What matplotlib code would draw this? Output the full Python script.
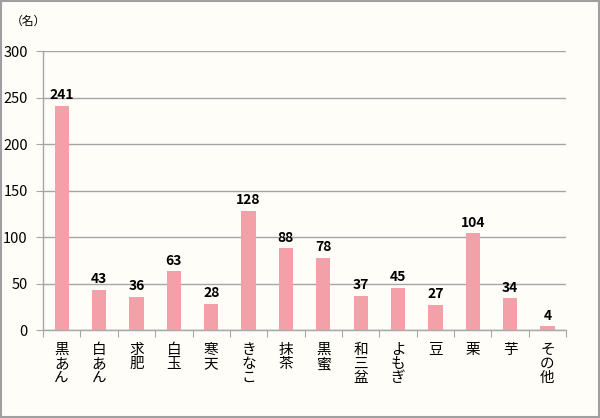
import matplotlib
matplotlib.use("Agg")
import matplotlib.pyplot as plt
from matplotlib.patches import Rectangle

plt.rcParams['font.family'] = ['Noto Sans CJK JP', 'DejaVu Sans']

categories = ["黒あん", "白あん", "求肥", "白玉", "寒天", "きなこ", "抹茶", "黒蜜", "和三盆", "よもぎ", "豆", "栗", "芋", "その他"]
values = [241, 43, 36, 63, 28, 128, 88, 78, 37, 45, 27, 104, 34, 4]
yticks = [0, 50, 100, 150, 200, 250, 300]

bg = "#FFFDF7"
bar_color = "#F4A0A8"
grid_color = "#A6A6A6"

fig = plt.figure(figsize=(6.0, 4.18), dpi=100, facecolor=bg)
fig.patches.append(Rectangle((0.002, 0.002), 0.996, 0.996, transform=fig.transFigure,
                             fill=False, edgecolor="#A0A0A0", linewidth=1.5))
ax = fig.add_axes([0.0717, 0.2105, 0.872, 0.667])
ax.set_facecolor(bg)

x = list(range(len(categories)))
ax.bar(x, values, width=0.38, color=bar_color, zorder=3)
for xi, v in zip(x, values):
    ax.text(xi, v + 4, str(v), ha="center", va="bottom", fontsize=10,
            fontweight="bold", color="#000000")

ax.set_ylim(0, 300)
ax.set_xlim(-0.5, len(categories) - 0.5)
ax.set_yticks(yticks)
ax.yaxis.grid(True, color=grid_color, linewidth=1.0, zorder=0)
ax.set_axisbelow(True)
for s in ["top", "right"]:
    ax.spines[s].set_visible(False)
for s in ["left", "bottom"]:
    ax.spines[s].set_color(grid_color)
    ax.spines[s].set_linewidth(1.0)

ax.tick_params(axis="y", length=5, color=grid_color, labelsize=10.5, pad=6)
ax.set_xticks([i - 0.5 for i in range(len(categories) + 1)])
ax.set_xticklabels([])
ax.tick_params(axis="x", length=5, color=grid_color)
for xi, c in zip(x, categories):
    ax.text(xi, -14, "\n".join(c), ha="center", va="top", fontsize=10.5,
            linespacing=1.0, transform=ax.transData)

fig.text(0.047, 0.95, "（名）", ha="center", va="center", fontsize=8.5)

fig.savefig("out.png", dpi=100, facecolor=bg)
